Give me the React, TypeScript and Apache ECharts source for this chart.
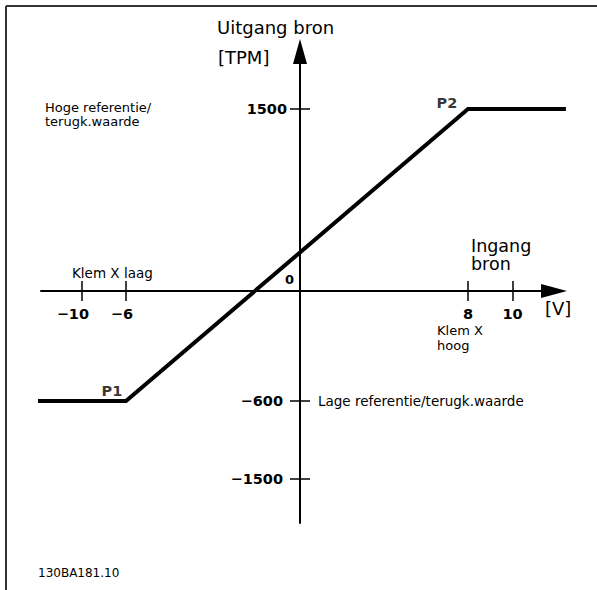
import React, { useEffect, useRef } from 'react';
import * as echarts from 'echarts';

// ---- data ----
const INPUT_V = [-14, -6, 8, 12.4];
const OUTPUT_RPM = [-600, -600, 1500, 1500];
const POINT_NAMES = ['', 'P1', 'P2', ''];
const X_TICKS = [-10, -6, 8, 10];
const X_TICK_LABELS = ['−10', '−6', '8', '10'];
const Y_TICKS = [1500, -600, -1500];
const Y_TICK_LABELS = ['1500', '−600', '−1500'];

// ---- schematic (non-linear) scale of the drawing ----
const X_SCALE = { values: [-10, -6, 0, 8, 10], pos: [-218, -174, 0, 168, 212.5] };
const Y_SCALE = { values: [-1500, -600, 0, 1500], pos: [-188, -110, 0, 182] };

function piecewise(scale: { values: number[]; pos: number[] }, v: number): number {
  const { values, pos } = scale;
  const n = values.length;
  let i = 0;
  if (v <= values[0]) i = 0;
  else if (v >= values[n - 1]) i = n - 2;
  else {
    while (i < n - 2 && v > values[i + 1]) i++;
  }
  const t = (v - values[i]) / (values[i + 1] - values[i]);
  return pos[i] + t * (pos[i + 1] - pos[i]);
}
const xs = (v: number) => piecewise(X_SCALE, v);
const ys = (v: number) => piecewise(Y_SCALE, v);

const FONT = '"DejaVu Sans", Verdana, sans-serif';

export default function App() {
  const ref = useRef<HTMLDivElement>(null);
  useEffect(() => {
    if (!ref.current) return;
    const chart = echarts.init(ref.current, undefined, { renderer: 'svg' });
    const xTickPos = X_TICKS.map(xs);
    const yTickPos = Y_TICKS.map(ys);
    const numStyle = { fontFamily: FONT, fontSize: 14.5, fontWeight: 'bold' as const, color: '#000' };
    const tickStyle = { color: '#000', width: 1.5 };

    const xAxisBase = { type: 'value' as const, gridIndex: 0, min: -259, max: 241, splitLine: { show: false }, axisLabel: { show: false } };
    const yAxisBase = { type: 'value' as const, gridIndex: 0, min: -232, max: 227, splitLine: { show: false }, axisLabel: { show: false } };

    chart.setOption({
      animation: false,
      backgroundColor: '#fff',
      grid: [
        // grid holding the visible axes
        { left: 41, right: 56, top: 64, bottom: 67, containLabel: false, outerBoundsMode: 'none' },
        // same scale (1 unit per px), wider so the plateau lines are not clipped
        { left: 36, right: 30, top: 64, bottom: 67, containLabel: false, outerBoundsMode: 'none' },
      ],
      xAxis: [
        {
          ...xAxisBase,
          position: 'bottom',
          axisLine: {
            show: true,
            onZero: true,
            onZeroAxisIndex: 0,
            symbol: ['none', 'triangle'],
            symbolSize: [14, 26],
            symbolOffset: [0, 13],
            lineStyle: { color: '#000', width: 2 },
          },
          axisTick: { show: true, customValues: xTickPos, length: 10, lineStyle: tickStyle },
        },
        {
          ...xAxisBase,
          position: 'top',
          axisLine: { show: false, onZero: true, onZeroAxisIndex: 0 },
          axisTick: { show: true, customValues: xTickPos, length: 10, lineStyle: tickStyle },
        },
        {
          type: 'value',
          gridIndex: 1,
          min: -264,
          max: 267,
          show: false,
        },
      ],
      yAxis: [
        {
          ...yAxisBase,
          position: 'left',
          axisLine: {
            show: true,
            onZero: true,
            onZeroAxisIndex: 0,
            symbol: ['none', 'triangle'],
            symbolSize: [14, 25],
            symbolOffset: [0, 12.5],
            lineStyle: { color: '#000', width: 2 },
          },
          axisTick: { show: true, customValues: yTickPos, length: 10, lineStyle: tickStyle },
        },
        {
          ...yAxisBase,
          position: 'right',
          axisLine: { show: false, onZero: true, onZeroAxisIndex: 0 },
          axisTick: { show: true, customValues: yTickPos, length: 10, lineStyle: tickStyle },
        },
        {
          type: 'value',
          gridIndex: 1,
          min: -232,
          max: 227,
          show: false,
        },
      ],
      series: [
        {
          type: 'line',
          xAxisIndex: 2,
          yAxisIndex: 2,
          data: INPUT_V.map((v, i) => [xs(v), ys(OUTPUT_RPM[i])]),
          symbol: 'none',
          clip: false,
          lineStyle: { color: '#000', width: 4, join: 'miter' },
          z: 5,
        },
        {
          type: 'scatter',
          xAxisIndex: 2,
          yAxisIndex: 2,
          symbol: 'circle',
          symbolSize: 1,
          itemStyle: { color: 'rgba(0,0,0,0)' },
          data: INPUT_V.map((v, i) => ({
            name: POINT_NAMES[i],
            value: [xs(v), ys(OUTPUT_RPM[i])],
            label: POINT_NAMES[i]
              ? {
                  show: true,
                  formatter: '{b}',
                  position: POINT_NAMES[i] === 'P1' ? [-24, -17] : [-31, -13],
                  ...numStyle,
                }
              : { show: false },
          })),
          z: 6,
        },
      ],
    });

    // tick labels placed through the chart's own scales
    const toPx = (x: number, y: number) => chart.convertToPixel({ gridIndex: 0 }, [x, y]) as number[];
    const [ox, oy] = toPx(0, 0);
    const numFont = `bold 14.5px ${FONT}`;
    const tickLabels: any[] = [];
    X_TICKS.forEach((t, i) => {
      const [px] = toPx(xs(t), 0);
      const neg = t < 0;
      tickLabels.push({
        type: 'text',
        x: neg ? px + 7 : px,
        y: oy + 22.5,
        style: { text: X_TICK_LABELS[i], font: numFont, fill: '#000', align: neg ? 'right' : 'center', verticalAlign: 'middle' },
      });
    });
    Y_TICKS.forEach((t, i) => {
      const [, py] = toPx(0, ys(t));
      tickLabels.push({
        type: 'text',
        x: ox - (t < 0 ? 17 : 13),
        y: py,
        style: { text: Y_TICK_LABELS[i], font: numFont, fill: '#000', align: 'right', verticalAlign: 'middle' },
      });
    });
    tickLabels.push({
      type: 'text',
      x: ox - 15,
      y: oy - 12,
      style: { text: '0', font: `bold 13px ${FONT}`, fill: '#000', align: 'left', verticalAlign: 'middle' },
    });

    const txt = (text: string, x: number, y: number, size: number) => ({
      type: 'text',
      x,
      y,
      style: { text, font: `${size}px ${FONT}`, fill: '#000', align: 'left', verticalAlign: 'middle' },
    });

    chart.setOption({
      graphic: [
        { type: 'line', shape: { x1: 6, y1: 6, x2: 597, y2: 6 }, style: { stroke: '#333', lineWidth: 2 } },
        { type: 'line', shape: { x1: 6, y1: 6, x2: 6, y2: 590 }, style: { stroke: '#333', lineWidth: 2 } },
        txt('Uitgang bron', 217, 27, 18),
        txt('[TPM]', 218, 57, 18),
        txt('Hoge referentie/', 45, 107.5, 13),
        txt('terugk.waarde', 45, 121, 13),
        txt('Klem X laag', 72, 273, 13.5),
        txt('Ingang', 471, 245.5, 17.5),
        txt('bron', 471, 264, 17.5),
        txt('[V]', 545, 308, 18),
        txt('Klem X', 437, 330, 13),
        txt('hoog', 437, 345, 13),
        txt('Lage referentie/terugk.waarde', 318, 401, 13.5),
        txt('130BA181.10', 38, 573, 12),
        ...tickLabels,
      ],
    });
    return () => chart.dispose();
  }, []);
  return (
    <div
      ref={ref}
      style={{ position: 'fixed', left: 0, top: 0, width: 597, height: 590, background: '#fff' }}
    />
  );
}
